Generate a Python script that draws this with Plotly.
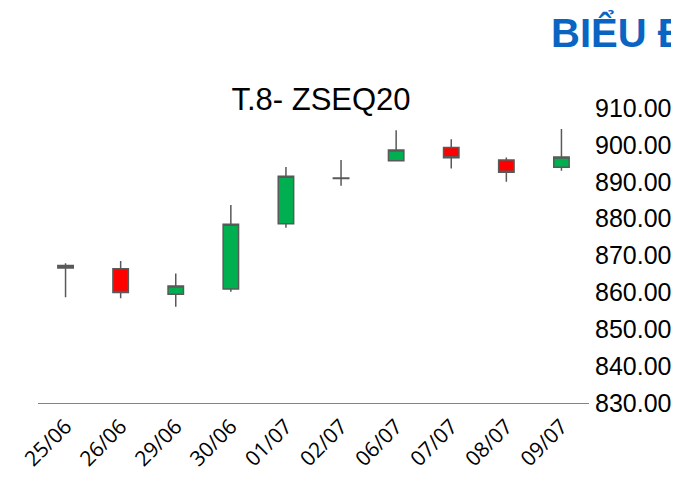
import plotly.graph_objects as go

dates = ["25/06", "26/06", "29/06", "30/06", "01/07", "02/07", "06/07", "07/07", "08/07", "09/07"]
open_ = [867.3, 866.4, 859.5, 860.9, 878.6, 891.0, 895.7, 899.3, 895.9, 893.9]
high = [867.9, 868.5, 865.1, 883.7, 894.0, 895.9, 904.0, 901.5, 896.6, 904.3]
low = [858.7, 858.4, 856.1, 860.2, 877.5, 888.9, 895.6, 893.6, 890.0, 893.0]
close = [866.6, 860.0, 861.7, 878.5, 891.5, 890.9, 898.6, 896.5, 892.6, 896.7]
y_ticks = [830, 840, 850, 860, 870, 880, 890, 900, 910]

W, H = 663, 469
L, R, T, B = 30, 82, 100, 74

fig = go.Figure(go.Candlestick(
    x=dates, open=open_, high=high, low=low, close=close,
    increasing=dict(fillcolor="#00B050", line=dict(color="#595959", width=1.5)),
    decreasing=dict(fillcolor="#FF0000", line=dict(color="#595959", width=1.5)),
    whiskerwidth=0,
    showlegend=False,
))

fig.update_layout(
    width=W, height=H,
    margin=dict(l=L, r=R, t=T, b=B),
    paper_bgcolor="white", plot_bgcolor="white",
    boxgap=0.6,
    title=dict(text="T.8- ZSEQ20", x=313 / W, xanchor="center", y=1 - 91 / H, yanchor="middle",
               font=dict(family="Liberation Sans, Arial", size=31, color="black")),
    xaxis=dict(type="category", rangeslider=dict(visible=False), tickangle=-45,
               showgrid=False, showline=True, linecolor="#00B0F0", linewidth=1,
               ticks="", ticklabelstandoff=2, automargin=False,
               tickfont=dict(family="Open Sans, Noto Sans", size=21, color="black")),
    yaxis=dict(side="right", range=[830, 910], tickvals=y_ticks, tickformat=".2f",
               showgrid=False, zeroline=False, showline=False, ticks="", ticklabelstandoff=5,
               automargin=False,
               tickfont=dict(family="Liberation Sans, Arial", size=25, color="black")),
    annotations=[dict(text="<b>BIỂU ĐỒ</b>", xref="paper", yref="paper",
                      x=(541 - L) / (W - L - R), y=(H - B - 24) / (H - B - T),
                      xanchor="left", yanchor="middle", showarrow=False,
                      font=dict(family="Liberation Sans, Arial", size=40, color="#0A64C2"))],
)
fig.write_html("out.html")
